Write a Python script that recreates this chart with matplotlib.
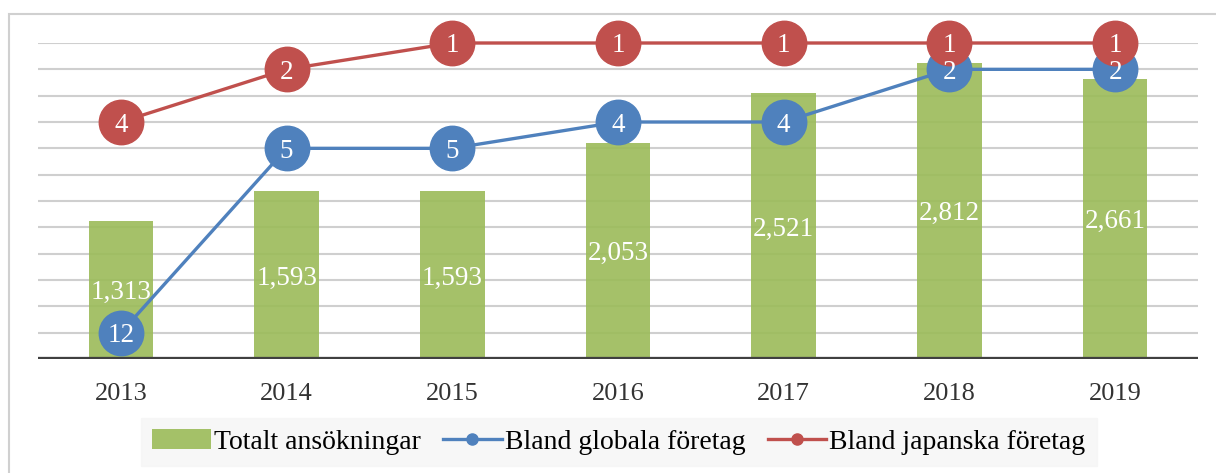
import numpy as np
import matplotlib.pyplot as plt
from matplotlib.patches import Rectangle
from matplotlib.lines import Line2D

# data
years = ['2013', '2014', '2015', '2016', '2017', '2018', '2019']
total = [1313, 1593, 1593, 2053, 2521, 2812, 2661]
rank_global = [12, 5, 5, 4, 4, 2, 2]
rank_japan = [4, 2, 1, 1, 1, 1, 1]

plt.rcParams['font.family'] = ['Liberation Serif', 'DejaVu Serif']

green = '#9bbb59'
blue = '#4f81bd'
red = '#c0504d'

fig = plt.figure(figsize=(12.16, 4.73), dpi=100)
ax = fig.add_axes([38/1216, 1-359/473, (1198-38)/1216, (359-43)/473])
ax2 = ax.twinx()

x = np.arange(len(years))

# gridlines
for g in np.arange(250, 3001, 250):
    ax.axhline(g, color='#cfcfcf', lw=1.5, zorder=0)

ax.bar(x, total, width=0.39, color=green, alpha=0.9, zorder=1,
       label='Totalt ansökningar')
ax.axhline(0, color='#404040', lw=3.8, zorder=3)
for xi, v in zip(x, total):
    ax.text(xi, v/2, f'{v:,}', color='white', ha='center',
            va='center_baseline', fontsize=19.5, zorder=4)

ax.set_xlim(-0.5, len(years)-0.5)
ax.set_ylim(0, 3000)
ax.set_xticks(x)
ax.set_xticklabels(years, fontsize=19, color='#333333')
ax.tick_params(axis='x', length=0, pad=17)
ax.set_yticks([])
for s in ax.spines.values():
    s.set_visible(False)

# rank lines
ax2.plot(x, rank_global, color=blue, lw=2.4, marker='o', markersize=32,
         zorder=5, clip_on=False, label='Bland globala företag')
ax2.plot(x, rank_japan, color=red, lw=2.4, marker='o', markersize=32,
         zorder=6, clip_on=False, label='Bland japanska företag')
for xi, r in zip(x, rank_global):
    ax2.text(xi, r, str(r), color='white', ha='center', va='center_baseline',
             fontsize=19.5, zorder=7)
for xi, r in zip(x, rank_japan):
    ax2.text(xi, r, str(r), color='white', ha='center', va='center_baseline',
             fontsize=19.5, zorder=8)
ax2.set_ylim(13, 1)
ax2.set_yticks([])
for s in ax2.spines.values():
    s.set_visible(False)
ax2.set_zorder(ax.get_zorder() + 1)
ax2.patch.set_visible(False)

# legend
h1, l1 = ax.get_legend_handles_labels()
lh = [h1[0],
      Line2D([], [], color=blue, lw=2.4, marker='o', markersize=8),
      Line2D([], [], color=red, lw=2.4, marker='o', markersize=8)]
l2 = ['Bland globala företag', 'Bland japanska företag']
leg = fig.legend(lh, l1 + l2, loc='center', bbox_to_anchor=(0.509, 0.066),
                 ncol=3, fontsize=20, frameon=True, fancybox=False,
                 handlelength=2.1, handletextpad=0.12, columnspacing=0.8,
                 borderpad=0.4)
leg.get_frame().set_facecolor('#f5f5f5')
leg.get_frame().set_edgecolor('#f5f5f5')

# outer frame
fig.patches.append(Rectangle((9/1216, -0.1), 1.2, 1-14/473+0.1,
                             transform=fig.transFigure, fill=False,
                             edgecolor='#d0d0d0', lw=1.5))

fig.savefig('out.png', dpi=100)
